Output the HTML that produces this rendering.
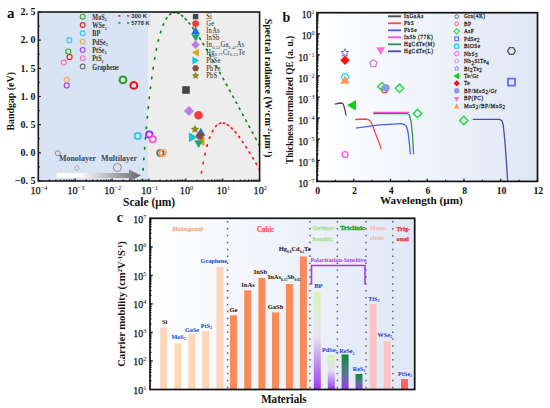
<!DOCTYPE html><html><head><meta charset="utf-8"><style>html,body{margin:0;padding:0;background:#fff;width:550px;height:408px;overflow:hidden;position:relative}</style></head><body><svg width="550" height="408" viewBox="0 0 550 408" style="position:absolute;left:0;top:0">
<defs>
<linearGradient id="bgb" x1="0" x2="1" y1="0" y2="0"><stop offset="0" stop-color="#ffffff"/><stop offset="1" stop-color="#dfe7f5"/></linearGradient>
<linearGradient id="gArrow" x1="0" x2="1" y1="0" y2="0"><stop offset="0" stop-color="#ffffff"/><stop offset="0.3" stop-color="#f8f8f8"/><stop offset="1" stop-color="#6a6a6a"/></linearGradient>
<linearGradient id="gBP" x1="0" x2="0" y1="0" y2="1"><stop offset="0" stop-color="#d4f5b8"/><stop offset="0.45" stop-color="#e8e4ee"/><stop offset="1" stop-color="#9a3cf0"/></linearGradient>
<linearGradient id="gPd" x1="0" x2="0" y1="0" y2="1"><stop offset="0" stop-color="#d4f5b8"/><stop offset="0.45" stop-color="#e4ddf0"/><stop offset="1" stop-color="#9a3cf0"/></linearGradient>
<linearGradient id="gRe" x1="0" x2="0" y1="0" y2="1"><stop offset="0" stop-color="#0e8a3a"/><stop offset="0.5" stop-color="#507a8a"/><stop offset="1" stop-color="#9a3cf0"/></linearGradient>
<clipPath id="clipA"><rect x="38.3" y="12" width="221.3" height="169"/></clipPath>
<clipPath id="clipB"><rect x="317" y="12.7" width="220.5" height="168.7"/></clipPath>
</defs>
<g font-family="Liberation Serif, serif">
<rect x="38.3" y="12.0" width="221.30" height="169.0" fill="#ededed"/>
<rect x="38.3" y="12.0" width="109.70" height="169.0" fill="#d8e3f3"/>
<rect x="147.5" y="12" width="3" height="15" fill="#dde6f2"/>
<g clip-path="url(#clipA)">
<line x1="141.68" y1="191.18" x2="141.76" y2="189.79" stroke="#0e8a1c" stroke-width="1.75" stroke-linecap="round"/>
<line x1="142.34" y1="180.87" x2="142.43" y2="179.48" stroke="#0e8a1c" stroke-width="1.75" stroke-linecap="round"/>
<line x1="143.07" y1="169.98" x2="143.17" y2="168.58" stroke="#0e8a1c" stroke-width="1.75" stroke-linecap="round"/>
<line x1="143.81" y1="159.65" x2="143.91" y2="158.26" stroke="#0e8a1c" stroke-width="1.75" stroke-linecap="round"/>
<line x1="144.62" y1="148.92" x2="144.73" y2="147.52" stroke="#0e8a1c" stroke-width="1.75" stroke-linecap="round"/>
<line x1="145.43" y1="138.81" x2="145.54" y2="137.42" stroke="#0e8a1c" stroke-width="1.75" stroke-linecap="round"/>
<line x1="146.31" y1="128.46" x2="146.43" y2="127.06" stroke="#0e8a1c" stroke-width="1.75" stroke-linecap="round"/>
<line x1="147.26" y1="117.99" x2="147.39" y2="116.60" stroke="#0e8a1c" stroke-width="1.75" stroke-linecap="round"/>
<line x1="148.22" y1="108.27" x2="148.36" y2="106.87" stroke="#0e8a1c" stroke-width="1.75" stroke-linecap="round"/>
<line x1="149.24" y1="98.57" x2="149.40" y2="97.18" stroke="#0e8a1c" stroke-width="1.75" stroke-linecap="round"/>
<line x1="150.41" y1="88.41" x2="150.58" y2="87.02" stroke="#0e8a1c" stroke-width="1.75" stroke-linecap="round"/>
<line x1="151.66" y1="78.62" x2="151.85" y2="77.23" stroke="#0e8a1c" stroke-width="1.75" stroke-linecap="round"/>
<line x1="153.05" y1="68.80" x2="153.26" y2="67.42" stroke="#0e8a1c" stroke-width="1.75" stroke-linecap="round"/>
<line x1="154.58" y1="59.22" x2="154.82" y2="57.84" stroke="#0e8a1c" stroke-width="1.75" stroke-linecap="round"/>
<line x1="156.26" y1="50.12" x2="156.54" y2="48.75" stroke="#0e8a1c" stroke-width="1.75" stroke-linecap="round"/>
<line x1="158.23" y1="41.10" x2="158.56" y2="39.74" stroke="#0e8a1c" stroke-width="1.75" stroke-linecap="round"/>
<line x1="160.47" y1="32.70" x2="160.88" y2="31.36" stroke="#0e8a1c" stroke-width="1.75" stroke-linecap="round"/>
<line x1="163.07" y1="25.20" x2="163.60" y2="23.91" stroke="#0e8a1c" stroke-width="1.75" stroke-linecap="round"/>
<line x1="166.13" y1="18.93" x2="166.88" y2="17.75" stroke="#0e8a1c" stroke-width="1.75" stroke-linecap="round"/>
<line x1="169.64" y1="14.57" x2="170.75" y2="13.72" stroke="#0e8a1c" stroke-width="1.75" stroke-linecap="round"/>
<line x1="173.48" y1="12.59" x2="174.88" y2="12.46" stroke="#0e8a1c" stroke-width="1.75" stroke-linecap="round"/>
<line x1="177.52" y1="12.97" x2="178.81" y2="13.51" stroke="#0e8a1c" stroke-width="1.75" stroke-linecap="round"/>
<line x1="181.52" y1="15.23" x2="182.62" y2="16.10" stroke="#0e8a1c" stroke-width="1.75" stroke-linecap="round"/>
<line x1="185.35" y1="18.68" x2="186.31" y2="19.70" stroke="#0e8a1c" stroke-width="1.75" stroke-linecap="round"/>
<line x1="189.09" y1="22.95" x2="189.96" y2="24.05" stroke="#0e8a1c" stroke-width="1.75" stroke-linecap="round"/>
<line x1="192.66" y1="27.66" x2="193.47" y2="28.80" stroke="#0e8a1c" stroke-width="1.75" stroke-linecap="round"/>
<line x1="196.14" y1="32.69" x2="196.92" y2="33.86" stroke="#0e8a1c" stroke-width="1.75" stroke-linecap="round"/>
<line x1="199.62" y1="38.05" x2="200.37" y2="39.23" stroke="#0e8a1c" stroke-width="1.75" stroke-linecap="round"/>
<line x1="203.03" y1="43.53" x2="203.75" y2="44.72" stroke="#0e8a1c" stroke-width="1.75" stroke-linecap="round"/>
<line x1="206.43" y1="49.18" x2="207.14" y2="50.39" stroke="#0e8a1c" stroke-width="1.75" stroke-linecap="round"/>
<line x1="209.75" y1="54.86" x2="210.45" y2="56.07" stroke="#0e8a1c" stroke-width="1.75" stroke-linecap="round"/>
<line x1="213.08" y1="60.63" x2="213.77" y2="61.85" stroke="#0e8a1c" stroke-width="1.75" stroke-linecap="round"/>
<line x1="216.40" y1="66.49" x2="217.09" y2="67.71" stroke="#0e8a1c" stroke-width="1.75" stroke-linecap="round"/>
<line x1="219.72" y1="72.41" x2="220.40" y2="73.64" stroke="#0e8a1c" stroke-width="1.75" stroke-linecap="round"/>
<line x1="223.04" y1="78.39" x2="223.72" y2="79.61" stroke="#0e8a1c" stroke-width="1.75" stroke-linecap="round"/>
<line x1="226.29" y1="84.27" x2="226.96" y2="85.50" stroke="#0e8a1c" stroke-width="1.75" stroke-linecap="round"/>
<line x1="229.54" y1="90.19" x2="230.21" y2="91.42" stroke="#0e8a1c" stroke-width="1.75" stroke-linecap="round"/>
<line x1="232.78" y1="96.13" x2="233.45" y2="97.36" stroke="#0e8a1c" stroke-width="1.75" stroke-linecap="round"/>
<line x1="236.03" y1="102.09" x2="236.70" y2="103.32" stroke="#0e8a1c" stroke-width="1.75" stroke-linecap="round"/>
<line x1="239.28" y1="108.07" x2="239.94" y2="109.31" stroke="#0e8a1c" stroke-width="1.75" stroke-linecap="round"/>
<line x1="242.52" y1="114.07" x2="243.19" y2="115.30" stroke="#0e8a1c" stroke-width="1.75" stroke-linecap="round"/>
<line x1="245.77" y1="120.07" x2="246.43" y2="121.31" stroke="#0e8a1c" stroke-width="1.75" stroke-linecap="round"/>
<line x1="249.01" y1="126.09" x2="249.68" y2="127.32" stroke="#0e8a1c" stroke-width="1.75" stroke-linecap="round"/>
<line x1="252.26" y1="132.11" x2="252.92" y2="133.34" stroke="#0e8a1c" stroke-width="1.75" stroke-linecap="round"/>
<line x1="255.51" y1="138.14" x2="256.17" y2="139.37" stroke="#0e8a1c" stroke-width="1.75" stroke-linecap="round"/>
<line x1="258.75" y1="144.17" x2="259.42" y2="145.40" stroke="#0e8a1c" stroke-width="1.75" stroke-linecap="round"/>
<line x1="198.65" y1="192.06" x2="198.83" y2="190.67" stroke="#f42020" stroke-width="1.75" stroke-linecap="round"/>
<line x1="199.97" y1="182.42" x2="200.17" y2="181.04" stroke="#f42020" stroke-width="1.75" stroke-linecap="round"/>
<line x1="201.43" y1="172.90" x2="201.66" y2="171.52" stroke="#f42020" stroke-width="1.75" stroke-linecap="round"/>
<line x1="203.04" y1="163.74" x2="203.30" y2="162.36" stroke="#f42020" stroke-width="1.75" stroke-linecap="round"/>
<line x1="204.86" y1="154.83" x2="205.17" y2="153.47" stroke="#f42020" stroke-width="1.75" stroke-linecap="round"/>
<line x1="206.96" y1="146.29" x2="207.34" y2="144.94" stroke="#f42020" stroke-width="1.75" stroke-linecap="round"/>
<line x1="209.42" y1="138.40" x2="209.90" y2="137.08" stroke="#f42020" stroke-width="1.75" stroke-linecap="round"/>
<line x1="212.28" y1="131.62" x2="212.94" y2="130.38" stroke="#f42020" stroke-width="1.75" stroke-linecap="round"/>
<line x1="215.60" y1="126.49" x2="216.56" y2="125.47" stroke="#f42020" stroke-width="1.75" stroke-linecap="round"/>
<line x1="219.32" y1="123.55" x2="220.65" y2="123.11" stroke="#f42020" stroke-width="1.75" stroke-linecap="round"/>
<line x1="223.36" y1="123.05" x2="224.72" y2="123.38" stroke="#f42020" stroke-width="1.75" stroke-linecap="round"/>
<line x1="227.45" y1="124.71" x2="228.61" y2="125.48" stroke="#f42020" stroke-width="1.75" stroke-linecap="round"/>
<line x1="231.36" y1="127.80" x2="232.36" y2="128.78" stroke="#f42020" stroke-width="1.75" stroke-linecap="round"/>
<line x1="235.10" y1="131.78" x2="236.00" y2="132.86" stroke="#f42020" stroke-width="1.75" stroke-linecap="round"/>
<line x1="238.75" y1="136.38" x2="239.58" y2="137.51" stroke="#f42020" stroke-width="1.75" stroke-linecap="round"/>
<line x1="242.31" y1="141.38" x2="243.10" y2="142.54" stroke="#f42020" stroke-width="1.75" stroke-linecap="round"/>
<line x1="245.80" y1="146.64" x2="246.55" y2="147.82" stroke="#f42020" stroke-width="1.75" stroke-linecap="round"/>
<line x1="249.20" y1="152.04" x2="249.93" y2="153.23" stroke="#f42020" stroke-width="1.75" stroke-linecap="round"/>
<line x1="252.60" y1="157.64" x2="253.32" y2="158.84" stroke="#f42020" stroke-width="1.75" stroke-linecap="round"/>
<line x1="255.93" y1="163.26" x2="256.63" y2="164.47" stroke="#f42020" stroke-width="1.75" stroke-linecap="round"/>
<line x1="259.25" y1="169.00" x2="259.95" y2="170.22" stroke="#f42020" stroke-width="1.75" stroke-linecap="round"/>
</g>
<polygon points="56.5,173 129,173 129,169.5 141,175.5 129,181.5 129,178 56.5,178" fill="url(#gArrow)"/>
<text x="59" y="160.6" font-size="8.3" font-weight="bold" fill="#3a4458" text-anchor="start" textLength="37" lengthAdjust="spacingAndGlyphs" >Monolayer</text>
<text x="101" y="160.6" font-size="8.3" font-weight="bold" fill="#3a4458" text-anchor="start" textLength="36" lengthAdjust="spacingAndGlyphs" >Multilayer</text>
<circle cx="82.70" cy="16.70" r="2.4" fill="none" stroke="#3aa532" stroke-width="1.1"/>
<text x="92.3" y="19.80" font-size="7.4" font-weight="bold" fill="#333" transform="translate(92.3,0) scale(0.84,1) translate(-92.3,0)">MoS<tspan dy="1.5" font-size="4.8">2</tspan></text>
<circle cx="82.70" cy="25.00" r="2.4" fill="none" stroke="#e42222" stroke-width="1.1"/>
<text x="92.3" y="28.10" font-size="7.4" font-weight="bold" fill="#333" transform="translate(92.3,0) scale(0.84,1) translate(-92.3,0)">WSe<tspan dy="1.5" font-size="4.8">2</tspan></text>
<circle cx="82.70" cy="33.30" r="2.4" fill="none" stroke="#35c6f2" stroke-width="1.1"/>
<text x="92.3" y="36.40" font-size="7.4" font-weight="bold" fill="#333" transform="translate(92.3,0) scale(0.84,1) translate(-92.3,0)">BP</text>
<circle cx="82.70" cy="41.60" r="2.4" fill="none" stroke="#f7a56a" stroke-width="1.1"/>
<text x="92.3" y="44.70" font-size="7.4" font-weight="bold" fill="#333" transform="translate(92.3,0) scale(0.84,1) translate(-92.3,0)">PdSe<tspan dy="1.5" font-size="4.8">2</tspan></text>
<circle cx="82.70" cy="49.90" r="2.4" fill="none" stroke="#a23ff0" stroke-width="1.1"/>
<text x="92.3" y="53.00" font-size="7.4" font-weight="bold" fill="#333" transform="translate(92.3,0) scale(0.84,1) translate(-92.3,0)">PtSe<tspan dy="1.5" font-size="4.8">2</tspan></text>
<circle cx="82.70" cy="58.20" r="2.4" fill="none" stroke="#ff6ec6" stroke-width="1.1"/>
<text x="92.3" y="61.30" font-size="7.4" font-weight="bold" fill="#333" transform="translate(92.3,0) scale(0.84,1) translate(-92.3,0)">PtS<tspan dy="1.5" font-size="4.8">2</tspan></text>
<circle cx="82.70" cy="66.50" r="2.4" fill="none" stroke="#6e6e6e" stroke-width="1.1"/>
<text x="92.3" y="69.60" font-size="7.4" font-weight="bold" fill="#333" transform="translate(92.3,0) scale(0.84,1) translate(-92.3,0)">Graphene</text>
<line x1="118.3" y1="15.9" x2="120.5" y2="15.9" stroke="#f02020" stroke-width="1.5"/>
<line x1="127" y1="15.9" x2="129.3" y2="15.9" stroke="#f02020" stroke-width="1.5"/>
<text x="131.2" y="18.0" font-size="5.8" font-weight="bold" fill="#333" text-anchor="start" textLength="16" lengthAdjust="spacingAndGlyphs" font-family="Liberation Sans, sans-serif">300 K</text>
<line x1="118.3" y1="22.9" x2="120.5" y2="22.9" stroke="#14901e" stroke-width="1.5"/>
<line x1="127" y1="22.9" x2="129.3" y2="22.9" stroke="#14901e" stroke-width="1.5"/>
<text x="131.2" y="25.0" font-size="5.8" font-weight="bold" fill="#333" text-anchor="start" textLength="18.4" lengthAdjust="spacingAndGlyphs" font-family="Liberation Sans, sans-serif">5778 K</text>
<circle cx="69.30" cy="40.20" r="2.5" fill="none" stroke="#35c6f2" stroke-width="1.2"/>
<circle cx="68.30" cy="51.50" r="2.5" fill="none" stroke="#3aa532" stroke-width="1.2"/>
<circle cx="69.60" cy="57.00" r="2.5" fill="none" stroke="#e42222" stroke-width="1.2"/>
<circle cx="63.80" cy="62.60" r="2.5" fill="none" stroke="#ff6ec6" stroke-width="1.2"/>
<circle cx="66.70" cy="79.80" r="2.5" fill="none" stroke="#f7a56a" stroke-width="1.2"/>
<circle cx="66.70" cy="85.50" r="2.5" fill="none" stroke="#a23ff0" stroke-width="1.2"/>
<circle cx="123.00" cy="79.90" r="3.4" fill="none" stroke="#2a9a22" stroke-width="2.0"/>
<circle cx="133.80" cy="85.40" r="3.4" fill="none" stroke="#ee1111" stroke-width="2.0"/>
<circle cx="137.80" cy="136.00" r="3.2" fill="none" stroke="#35c6f2" stroke-width="1.8"/>
<circle cx="149.30" cy="134.50" r="3.2" fill="none" stroke="#a020f0" stroke-width="1.8"/>
<circle cx="152.70" cy="139.20" r="3.2" fill="none" stroke="#ff55cc" stroke-width="1.8"/>
<circle cx="160.40" cy="153.00" r="3.2" fill="none" stroke="#666" stroke-width="1.8"/>
<circle cx="162.60" cy="153.00" r="3.2" fill="none" stroke="#ffa050" stroke-width="1.8"/>
<circle cx="57.80" cy="153.30" r="2.5" fill="none" stroke="#808080" stroke-width="0.9"/>
<circle cx="76.80" cy="168.10" r="2.2" fill="none" stroke="#a0a0a0" stroke-width="0.8"/>
<circle cx="117.40" cy="167.50" r="4.0" fill="none" stroke="#8a8a8a" stroke-width="1.0"/>
<rect x="192.90" y="13.90" width="5.4" height="5.4" fill="#454545"/>
<text x="206.2" y="19.10" font-size="7.6" fill="#222" transform="translate(206.2,0) scale(0.86,1) translate(-206.2,0)" letter-spacing="0.3">Si</text>
<circle cx="195.60" cy="23.60" r="3.4" fill="#f43c3c" stroke="none" stroke-width="0"/>
<text x="206.2" y="26.10" font-size="7.6" fill="#222" transform="translate(206.2,0) scale(0.86,1) translate(-206.2,0)" letter-spacing="0.3">Ge</text>
<polygon points="195.60,26.60 199.84,33.95 191.36,33.95" fill="#1f6fe0" stroke="none" stroke-width="0" />
<text x="206.2" y="33.10" font-size="7.6" fill="#222" transform="translate(206.2,0) scale(0.86,1) translate(-206.2,0)" letter-spacing="0.3">InAs</text>
<polygon points="195.60,41.60 191.36,34.25 199.84,34.25" fill="#1aa56a" stroke="none" stroke-width="0" />
<text x="206.2" y="40.10" font-size="7.6" fill="#222" transform="translate(206.2,0) scale(0.86,1) translate(-206.2,0)" letter-spacing="0.3">InSb</text>
<polygon points="195.60,40.50 199.90,44.80 195.60,49.10 191.30,44.80" fill="#b87ee0" stroke="none" stroke-width="0" />
<text x="206.2" y="47.30" font-size="7.6" fill="#222" transform="translate(206.2,0) scale(0.86,1) translate(-206.2,0)" letter-spacing="0.3">In<tspan dy="1.4" font-size="4.8">0.53</tspan><tspan dy="-1.4">Ga</tspan><tspan dy="1.4" font-size="4.8">0.47</tspan><tspan dy="-1.4">As</tspan></text>
<polygon points="191.90,52.40 198.80,48.42 198.80,56.38" fill="#e0a020" stroke="none" stroke-width="0" />
<text x="206.2" y="54.90" font-size="7.6" fill="#222" transform="translate(206.2,0) scale(0.86,1) translate(-206.2,0)" letter-spacing="0.3">Hg<tspan dy="1.4" font-size="4.8">0.77</tspan><tspan dy="-1.4">Cr</tspan><tspan dy="1.4" font-size="4.8">0.23</tspan><tspan dy="-1.4">Te</tspan></text>
<polygon points="199.30,60.60 192.40,64.58 192.40,56.62" fill="#16c6d6" stroke="none" stroke-width="0" />
<text x="206.2" y="63.10" font-size="7.6" fill="#222" transform="translate(206.2,0) scale(0.86,1) translate(-206.2,0)" letter-spacing="0.3">PbSe</text>
<polygon points="199.10,68.20 197.35,71.23 193.85,71.23 192.10,68.20 193.85,65.17 197.35,65.17" fill="#8a4a48" stroke="none" stroke-width="0" />
<text x="206.2" y="70.70" font-size="7.6" fill="#222" transform="translate(206.2,0) scale(0.86,1) translate(-206.2,0)" letter-spacing="0.3">PbTe</text>
<polygon points="195.60,71.70 196.78,74.08 199.40,74.46 197.50,76.32 197.95,78.94 195.60,77.70 193.25,78.94 193.70,76.32 191.80,74.46 194.42,74.08" fill="#8c8c1e" stroke="none" stroke-width="0" />
<text x="206.2" y="78.20" font-size="7.6" fill="#222" transform="translate(206.2,0) scale(0.86,1) translate(-206.2,0)" letter-spacing="0.3">PbS</text>
<rect x="182.20" y="86.20" width="7.6" height="7.6" fill="#454545"/>
<polygon points="189.00,105.90 194.00,110.90 189.00,115.90 184.00,110.90" fill="#b87ee0" stroke="none" stroke-width="0" />
<circle cx="198.50" cy="115.30" r="4.3" fill="#f43c3c" stroke="none" stroke-width="0"/>
<polygon points="196.30,141.20 204.55,136.44 204.55,145.96" fill="#e0a020" stroke="none" stroke-width="0" />
<polygon points="200.80,127.70 205.39,135.65 196.21,135.65" fill="#1f6fe0" stroke="none" stroke-width="0" />
<polygon points="198.60,148.00 194.27,140.50 202.93,140.50" fill="#1aa56a" stroke="none" stroke-width="0" />
<polygon points="197.60,137.30 188.90,142.32 188.90,132.28" fill="#16c6d6" stroke="none" stroke-width="0" />
<polygon points="204.10,135.80 202.00,139.44 197.80,139.44 195.70,135.80 197.80,132.16 202.00,132.16" fill="#8a4a48" stroke="none" stroke-width="0" />
<polygon points="195.00,124.70 196.29,127.52 199.37,127.88 197.09,129.98 197.70,133.02 195.00,131.50 192.30,133.02 192.91,129.98 190.63,127.88 193.71,127.52" fill="#8c8c1e" stroke="none" stroke-width="0" />
<rect x="38.3" y="12.0" width="221.30" height="169.0" fill="none" stroke="#1a1a1a" stroke-width="1.6"/>
<path d="M38.3,12.00h2.6 M38.3,26.08h1.5 M38.3,40.17h2.6 M38.3,54.25h1.5 M38.3,68.33h2.6 M38.3,82.42h1.5 M38.3,96.50h2.6 M38.3,110.58h1.5 M38.3,124.67h2.6 M38.3,138.75h1.5 M38.3,152.83h2.6 M38.3,166.92h1.5 M38.3,181.00h2.6 M38.30,181.0v-2.6 M49.40,181.0v-1.5 M55.90,181.0v-1.5 M60.51,181.0v-1.5 M64.08,181.0v-1.5 M67.00,181.0v-1.5 M69.47,181.0v-1.5 M71.61,181.0v-1.5 M73.50,181.0v-1.5 M75.18,181.0v-2.6 M86.29,181.0v-1.5 M92.78,181.0v-1.5 M97.39,181.0v-1.5 M100.96,181.0v-1.5 M103.88,181.0v-1.5 M106.35,181.0v-1.5 M108.49,181.0v-1.5 M110.38,181.0v-1.5 M112.07,181.0v-2.6 M123.17,181.0v-1.5 M129.66,181.0v-1.5 M134.27,181.0v-1.5 M137.85,181.0v-1.5 M140.77,181.0v-1.5 M143.24,181.0v-1.5 M145.38,181.0v-1.5 M147.26,181.0v-1.5 M148.95,181.0v-2.6 M160.05,181.0v-1.5 M166.55,181.0v-1.5 M171.16,181.0v-1.5 M174.73,181.0v-1.5 M177.65,181.0v-1.5 M180.12,181.0v-1.5 M182.26,181.0v-1.5 M184.15,181.0v-1.5 M185.83,181.0v-2.6 M196.94,181.0v-1.5 M203.43,181.0v-1.5 M208.04,181.0v-1.5 M211.61,181.0v-1.5 M214.53,181.0v-1.5 M217.00,181.0v-1.5 M219.14,181.0v-1.5 M221.03,181.0v-1.5 M222.72,181.0v-2.6 M233.82,181.0v-1.5 M240.31,181.0v-1.5 M244.92,181.0v-1.5 M248.50,181.0v-1.5 M251.42,181.0v-1.5 M253.89,181.0v-1.5 M256.03,181.0v-1.5 M257.91,181.0v-1.5 M259.60,181.0v-2.6" stroke="#1a1a1a" stroke-width="1.2" fill="none"/>
<text x="35.4" y="15.3" font-size="10" font-weight="bold" fill="#111" text-anchor="end" >2. 5</text>
<text x="35.4" y="43.46666666666667" font-size="10" font-weight="bold" fill="#111" text-anchor="end" >2. 0</text>
<text x="35.4" y="71.63333333333334" font-size="10" font-weight="bold" fill="#111" text-anchor="end" >1. 5</text>
<text x="35.4" y="99.8" font-size="10" font-weight="bold" fill="#111" text-anchor="end" >1. 0</text>
<text x="35.4" y="127.96666666666667" font-size="10" font-weight="bold" fill="#111" text-anchor="end" >0. 5</text>
<text x="35.4" y="156.13333333333335" font-size="10" font-weight="bold" fill="#111" text-anchor="end" >0. 0</text>
<text x="35.4" y="184.3" font-size="10" font-weight="bold" fill="#111" text-anchor="end" >&#8722;0. 5</text>
<text x="39.00" y="193.7" font-size="10.2" fill="#111" text-anchor="middle" stroke="#111" stroke-width="0.25">10<tspan dy="-4.2" font-size="6.4" stroke-width="0">&#8722;4</tspan></text>
<text x="75.88" y="193.7" font-size="10.2" fill="#111" text-anchor="middle" stroke="#111" stroke-width="0.25">10<tspan dy="-4.2" font-size="6.4" stroke-width="0">&#8722;3</tspan></text>
<text x="112.77" y="193.7" font-size="10.2" fill="#111" text-anchor="middle" stroke="#111" stroke-width="0.25">10<tspan dy="-4.2" font-size="6.4" stroke-width="0">&#8722;2</tspan></text>
<text x="149.65" y="193.7" font-size="10.2" fill="#111" text-anchor="middle" stroke="#111" stroke-width="0.25">10<tspan dy="-4.2" font-size="6.4" stroke-width="0">&#8722;1</tspan></text>
<text x="186.53" y="193.7" font-size="10.2" fill="#111" text-anchor="middle" stroke="#111" stroke-width="0.25">10<tspan dy="-4.2" font-size="6.4" stroke-width="0">0</tspan></text>
<text x="223.42" y="193.7" font-size="10.2" fill="#111" text-anchor="middle" stroke="#111" stroke-width="0.25">10<tspan dy="-4.2" font-size="6.4" stroke-width="0">1</tspan></text>
<text x="260.30" y="193.7" font-size="10.2" fill="#111" text-anchor="middle" stroke="#111" stroke-width="0.25">10<tspan dy="-4.2" font-size="6.4" stroke-width="0">2</tspan></text>
<text x="123" y="206" font-size="11.5" font-weight="bold" fill="#111" text-anchor="start" >Scale (μm)</text>
<text transform="translate(13.5,101.3) rotate(-90)" font-size="9.9" font-weight="bold" fill="#111" text-anchor="middle">Bandgap (eV)</text>
<text transform="translate(265,88) rotate(90)" font-size="10" font-weight="bold" fill="#111" text-anchor="middle">Spectral radiance (W·cm<tspan dy="-3" font-size="6.5">-2</tspan><tspan dy="3">·μm</tspan><tspan dy="-3" font-size="6.5">-1</tspan><tspan dy="3">)</tspan></text>
<text x="7" y="18" font-size="15" font-weight="bold" fill="#111" text-anchor="start" >a</text>
<rect x="317.0" y="12.7" width="220.5" height="168.70" fill="url(#bgb)"/>
<g clip-path="url(#clipB)">
<polyline points="334.70,104.20 340.50,103.00 342.60,103.30 343.80,105.50 345.00,110.00 346.10,115.70" fill="none" stroke="#4a4a4a" stroke-width="1.3" stroke-linejoin="round" />
<polyline points="355.20,119.50 365.20,119.00 368.50,119.60 370.50,121.50 372.50,125.00 375.20,133.00 378.50,141.00 381.30,149.20" fill="none" stroke="#f24a4a" stroke-width="1.3" stroke-linejoin="round" />
<polyline points="355.80,128.10 377.20,125.20 401.30,123.70 404.50,124.40 406.50,126.50 408.00,132.00 409.20,142.00 410.40,154.20" fill="none" stroke="#4d5cf0" stroke-width="1.3" stroke-linejoin="round" />
<polyline points="373.20,113.70 407.50,113.70 409.50,115.00 411.20,122.00 412.50,135.00 413.60,154.20" fill="none" stroke="#2e8f56" stroke-width="1.3" stroke-linejoin="round" />
<polyline points="373.20,112.40 409.40,112.40" fill="none" stroke="#f050e0" stroke-width="1.3" stroke-linejoin="round" />
<polyline points="472.80,119.40 499.50,119.40 501.80,120.60 503.20,124.50 504.80,140.00 506.30,160.00 507.70,182.00" fill="none" stroke="#4a4aa8" stroke-width="1.3" stroke-linejoin="round" />
</g>
<polygon points="345.00,48.70 346.04,51.47 348.99,51.60 346.68,53.45 347.47,56.30 345.00,54.66 342.53,56.30 343.32,53.45 341.01,51.60 343.96,51.47" fill="none" stroke="#6a6ad0" stroke-width="1.0" />
<polygon points="345.00,55.50 349.80,60.30 345.00,65.10 340.20,60.30" fill="#ff1010" stroke="none" stroke-width="0" />
<polygon points="348.60,77.00 346.80,80.12 343.20,80.12 341.40,77.00 343.20,73.88 346.80,73.88" fill="none" stroke="#18d8f0" stroke-width="1.3" />
<polygon points="345.00,75.50 349.76,83.75 340.24,83.75" fill="#ff9a55" stroke="none" stroke-width="0" />
<polygon points="380.70,55.00 376.20,47.20 385.20,47.20" fill="#ff70dd" stroke="none" stroke-width="0" />
<polygon points="373.50,59.70 377.11,62.33 375.73,66.57 371.27,66.57 369.89,62.33" fill="none" stroke="#c080f0" stroke-width="1.3" />
<polygon points="388.20,89.50 386.40,92.62 382.80,92.62 381.00,89.50 382.80,86.38 386.40,86.38" fill="none" stroke="#ff4040" stroke-width="1.2" />
<polygon points="382.00,82.50 386.20,86.70 382.00,90.90 377.80,86.70" fill="none" stroke="#22dd44" stroke-width="1.5" />
<circle cx="386.00" cy="88.00" r="3.8" fill="#8a97ea" stroke="none" stroke-width="0"/>
<polygon points="347.00,105.30 356.00,100.10 356.00,110.50" fill="#10d010" stroke="none" stroke-width="0" />
<circle cx="345.10" cy="154.60" r="2.9" fill="none" stroke="#ff55ee" stroke-width="1.3"/>
<polygon points="399.50,84.10 403.70,88.30 399.50,92.50 395.30,88.30" fill="none" stroke="#22dd44" stroke-width="1.5" />
<polygon points="417.50,109.30 421.70,113.50 417.50,117.70 413.30,113.50" fill="none" stroke="#22dd44" stroke-width="1.5" />
<polygon points="463.80,116.20 468.00,120.40 463.80,124.60 459.60,120.40" fill="none" stroke="#22dd44" stroke-width="1.5" />
<polygon points="515.40,51.00 513.45,54.38 509.55,54.38 507.60,51.00 509.55,47.62 513.45,47.62" fill="none" stroke="#555" stroke-width="1.4" />
<rect x="508.0" y="78.6" width="7.0" height="7.0" fill="none" stroke="#6c6cf0" stroke-width="1.8"/>
<line x1="388" y1="16.30" x2="401" y2="16.30" stroke="#4a4a4a" stroke-width="1.8"/>
<text x="404" y="18.50" font-size="6.4" fill="#1a1a1a" letter-spacing="0.6" stroke="#1a1a1a" stroke-width="0.25" transform="translate(404,0) scale(0.84,1) translate(-404,0)">InGaAs</text>
<line x1="388" y1="23.30" x2="401" y2="23.30" stroke="#f24a4a" stroke-width="1.8"/>
<text x="404" y="25.50" font-size="6.4" fill="#1a1a1a" letter-spacing="0.6" stroke="#1a1a1a" stroke-width="0.25" transform="translate(404,0) scale(0.84,1) translate(-404,0)">PbS</text>
<line x1="388" y1="30.30" x2="401" y2="30.30" stroke="#4d5cf0" stroke-width="1.8"/>
<text x="404" y="32.50" font-size="6.4" fill="#1a1a1a" letter-spacing="0.6" stroke="#1a1a1a" stroke-width="0.25" transform="translate(404,0) scale(0.84,1) translate(-404,0)">PbSe</text>
<line x1="388" y1="37.30" x2="401" y2="37.30" stroke="#f050e0" stroke-width="1.8"/>
<text x="404" y="39.50" font-size="6.4" fill="#1a1a1a" letter-spacing="0.6" stroke="#1a1a1a" stroke-width="0.25" transform="translate(404,0) scale(0.84,1) translate(-404,0)">InSb (77K)</text>
<line x1="388" y1="44.30" x2="401" y2="44.30" stroke="#2e8f56" stroke-width="1.8"/>
<text x="404" y="46.50" font-size="6.4" fill="#1a1a1a" letter-spacing="0.6" stroke="#1a1a1a" stroke-width="0.25" transform="translate(404,0) scale(0.84,1) translate(-404,0)">HgCdTe(M)</text>
<line x1="388" y1="51.30" x2="401" y2="51.30" stroke="#4a4aa8" stroke-width="1.8"/>
<text x="404" y="53.50" font-size="6.4" fill="#1a1a1a" letter-spacing="0.6" stroke="#1a1a1a" stroke-width="0.25" transform="translate(404,0) scale(0.84,1) translate(-404,0)">HgCdTe(L)</text>
<polygon points="458.70,16.50 457.70,18.23 455.70,18.23 454.70,16.50 455.70,14.77 457.70,14.77" fill="none" stroke="#555" stroke-width="0.8" />
<text x="463.9" y="18.50" font-size="6.4" fill="#1a1a1a" letter-spacing="0.6" stroke="#1a1a1a" stroke-width="0.25" transform="translate(463.9,0) scale(0.84,1) translate(-463.9,0)">Gra(4K)</text>
<polygon points="458.70,23.93 457.70,25.66 455.70,25.66 454.70,23.93 455.70,22.20 457.70,22.20" fill="none" stroke="#ff4040" stroke-width="0.8" />
<text x="463.9" y="25.93" font-size="6.4" fill="#1a1a1a" letter-spacing="0.6" stroke="#1a1a1a" stroke-width="0.25" transform="translate(463.9,0) scale(0.84,1) translate(-463.9,0)">BP</text>
<polygon points="456.70,28.66 459.40,31.36 456.70,34.06 454.00,31.36" fill="none" stroke="#22dd44" stroke-width="1.1" />
<text x="463.9" y="33.36" font-size="6.4" fill="#1a1a1a" letter-spacing="0.6" stroke="#1a1a1a" stroke-width="0.25" transform="translate(463.9,0) scale(0.84,1) translate(-463.9,0)">AsP</text>
<rect x="454.90" y="36.99" width="3.6" height="3.6" fill="none" stroke="#6c6cf0" stroke-width="1.2"/>
<text x="463.9" y="40.79" font-size="6.4" fill="#1a1a1a" letter-spacing="0.6" stroke="#1a1a1a" stroke-width="0.25" transform="translate(463.9,0) scale(0.84,1) translate(-463.9,0)">PdSe<tspan dy="1.5" font-size="6">2</tspan></text>
<circle cx="456.70" cy="46.22" r="2.2" fill="none" stroke="#18d8f0" stroke-width="1.4"/>
<text x="463.9" y="48.22" font-size="6.4" fill="#1a1a1a" letter-spacing="0.6" stroke="#1a1a1a" stroke-width="0.25" transform="translate(463.9,0) scale(0.84,1) translate(-463.9,0)">BiOSe</text>
<circle cx="456.70" cy="53.65" r="2.2" fill="none" stroke="#ff55ee" stroke-width="1.0"/>
<text x="463.9" y="55.65" font-size="6.4" fill="#1a1a1a" letter-spacing="0.6" stroke="#1a1a1a" stroke-width="0.25" transform="translate(463.9,0) scale(0.84,1) translate(-463.9,0)">NbS<tspan dy="1.5" font-size="6">3</tspan></text>
<polygon points="456.70,58.98 458.70,60.43 457.93,62.78 455.47,62.78 454.70,60.43" fill="none" stroke="#c080f0" stroke-width="0.8" />
<text x="463.9" y="63.08" font-size="6.4" fill="#1a1a1a" letter-spacing="0.6" stroke="#1a1a1a" stroke-width="0.25" transform="translate(463.9,0) scale(0.84,1) translate(-463.9,0)">Nb<tspan dy="1.5" font-size="6">2</tspan><tspan dy="-1.5">SiTe</tspan><tspan dy="1.5" font-size="6">4</tspan></text>
<polygon points="456.70,66.11 457.29,67.69 458.98,67.77 457.66,68.82 458.11,70.45 456.70,69.52 455.29,70.45 455.74,68.82 454.42,67.77 456.11,67.69" fill="none" stroke="#6a6ad0" stroke-width="0.6" />
<text x="463.9" y="70.51" font-size="6.4" fill="#1a1a1a" letter-spacing="0.6" stroke="#1a1a1a" stroke-width="0.25" transform="translate(463.9,0) scale(0.84,1) translate(-463.9,0)">Bi<tspan dy="1.5" font-size="6">2</tspan><tspan dy="-1.5">Te</tspan><tspan dy="1.5" font-size="6">2</tspan></text>
<polygon points="453.40,75.94 459.10,72.65 459.10,79.23" fill="#10d010" stroke="none" stroke-width="0" />
<text x="463.9" y="77.94" font-size="6.4" fill="#1a1a1a" letter-spacing="0.6" stroke="#1a1a1a" stroke-width="0.25" transform="translate(463.9,0) scale(0.84,1) translate(-463.9,0)">Te/Gr</text>
<polygon points="456.70,80.27 459.80,83.37 456.70,86.47 453.60,83.37" fill="#ff1010" stroke="none" stroke-width="0" />
<text x="463.9" y="85.37" font-size="6.4" fill="#1a1a1a" letter-spacing="0.6" stroke="#1a1a1a" stroke-width="0.25" transform="translate(463.9,0) scale(0.84,1) translate(-463.9,0)">Te</text>
<circle cx="456.70" cy="90.80" r="2.7" fill="#8a97ea" stroke="none" stroke-width="0"/>
<text x="463.9" y="92.80" font-size="6.4" fill="#1a1a1a" letter-spacing="0.6" stroke="#1a1a1a" stroke-width="0.25" transform="translate(463.9,0) scale(0.84,1) translate(-463.9,0)">BP/MoS<tspan dy="1.5" font-size="6">2</tspan><tspan dy="-1.5">/Gr</tspan></text>
<polygon points="456.70,101.83 453.84,96.88 459.56,96.88" fill="#ff70dd" stroke="none" stroke-width="0" />
<text x="463.9" y="100.23" font-size="6.4" fill="#1a1a1a" letter-spacing="0.6" stroke="#1a1a1a" stroke-width="0.25" transform="translate(463.9,0) scale(0.84,1) translate(-463.9,0)">BP(PC)</text>
<polygon points="456.70,103.56 459.56,108.51 453.84,108.51" fill="#ff9a55" stroke="none" stroke-width="0" />
<text x="463.9" y="107.66" font-size="6.4" fill="#1a1a1a" letter-spacing="0.6" stroke="#1a1a1a" stroke-width="0.25" transform="translate(463.9,0) scale(0.84,1) translate(-463.9,0)">MoS<tspan dy="1.5" font-size="6">2</tspan><tspan dy="-1.5">/BP/MoS</tspan><tspan dy="1.5" font-size="6">2</tspan></text>
<rect x="317.0" y="12.7" width="220.5" height="168.70" fill="none" stroke="#111" stroke-width="1.7"/>
<path d="M317.0,181.40h2.8 M317.0,175.05h1.5 M317.0,171.34h1.5 M317.0,168.70h1.5 M317.0,166.66h1.5 M317.0,164.99h1.5 M317.0,163.58h1.5 M317.0,162.36h1.5 M317.0,161.28h1.5 M317.0,160.31h2.8 M317.0,153.96h1.5 M317.0,150.25h1.5 M317.0,147.62h1.5 M317.0,145.57h1.5 M317.0,143.90h1.5 M317.0,142.49h1.5 M317.0,141.27h1.5 M317.0,140.19h1.5 M317.0,139.22h2.8 M317.0,132.88h1.5 M317.0,129.16h1.5 M317.0,126.53h1.5 M317.0,124.49h1.5 M317.0,122.82h1.5 M317.0,121.40h1.5 M317.0,120.18h1.5 M317.0,119.10h1.5 M317.0,118.14h2.8 M317.0,111.79h1.5 M317.0,108.08h1.5 M317.0,105.44h1.5 M317.0,103.40h1.5 M317.0,101.73h1.5 M317.0,100.32h1.5 M317.0,99.09h1.5 M317.0,98.01h1.5 M317.0,97.05h2.8 M317.0,90.70h1.5 M317.0,86.99h1.5 M317.0,84.35h1.5 M317.0,82.31h1.5 M317.0,80.64h1.5 M317.0,79.23h1.5 M317.0,78.01h1.5 M317.0,76.93h1.5 M317.0,75.96h2.8 M317.0,69.61h1.5 M317.0,65.90h1.5 M317.0,63.27h1.5 M317.0,61.22h1.5 M317.0,59.55h1.5 M317.0,58.14h1.5 M317.0,56.92h1.5 M317.0,55.84h1.5 M317.0,54.88h2.8 M317.0,48.53h1.5 M317.0,44.81h1.5 M317.0,42.18h1.5 M317.0,40.14h1.5 M317.0,38.47h1.5 M317.0,37.05h1.5 M317.0,35.83h1.5 M317.0,34.75h1.5 M317.0,33.79h2.8 M317.0,27.44h1.5 M317.0,23.73h1.5 M317.0,21.09h1.5 M317.0,19.05h1.5 M317.0,17.38h1.5 M317.0,15.97h1.5 M317.0,14.74h1.5 M317.0,13.66h1.5 M317.0,12.70h2.8 M317.00,181.4v-2.6 M335.38,181.4v-1.6 M353.75,181.4v-2.6 M372.12,181.4v-1.6 M390.50,181.4v-2.6 M408.88,181.4v-1.6 M427.25,181.4v-2.6 M445.62,181.4v-1.6 M464.00,181.4v-2.6 M482.38,181.4v-1.6 M500.75,181.4v-2.6 M519.12,181.4v-1.6 M537.50,181.4v-2.6" stroke="#111" stroke-width="1.2" fill="none"/>
<text x="314.6" y="187.10" font-size="9.9" fill="#111" text-anchor="end" stroke="#111" stroke-width="0.25">10<tspan dy="-4.0" font-size="6.2" stroke-width="0">&#8722;7</tspan></text>
<text x="314.6" y="166.01" font-size="9.9" fill="#111" text-anchor="end" stroke="#111" stroke-width="0.25">10<tspan dy="-4.0" font-size="6.2" stroke-width="0">&#8722;6</tspan></text>
<text x="314.6" y="144.92" font-size="9.9" fill="#111" text-anchor="end" stroke="#111" stroke-width="0.25">10<tspan dy="-4.0" font-size="6.2" stroke-width="0">&#8722;5</tspan></text>
<text x="314.6" y="123.84" font-size="9.9" fill="#111" text-anchor="end" stroke="#111" stroke-width="0.25">10<tspan dy="-4.0" font-size="6.2" stroke-width="0">&#8722;4</tspan></text>
<text x="314.6" y="102.75" font-size="9.9" fill="#111" text-anchor="end" stroke="#111" stroke-width="0.25">10<tspan dy="-4.0" font-size="6.2" stroke-width="0">&#8722;3</tspan></text>
<text x="314.6" y="81.66" font-size="9.9" fill="#111" text-anchor="end" stroke="#111" stroke-width="0.25">10<tspan dy="-4.0" font-size="6.2" stroke-width="0">&#8722;2</tspan></text>
<text x="314.6" y="60.58" font-size="9.9" fill="#111" text-anchor="end" stroke="#111" stroke-width="0.25">10<tspan dy="-4.0" font-size="6.2" stroke-width="0">&#8722;1</tspan></text>
<text x="314.6" y="39.49" font-size="9.9" fill="#111" text-anchor="end" stroke="#111" stroke-width="0.25">10<tspan dy="-4.0" font-size="6.2" stroke-width="0">0</tspan></text>
<text x="314.6" y="18.40" font-size="9.9" fill="#111" text-anchor="end" stroke="#111" stroke-width="0.25">10<tspan dy="-4.0" font-size="6.2" stroke-width="0">1</tspan></text>
<text x="317.8" y="193.5" font-size="9.8" font-weight="bold" fill="#111" text-anchor="middle" >0</text>
<text x="354.55" y="193.5" font-size="9.8" font-weight="bold" fill="#111" text-anchor="middle" >2</text>
<text x="391.3" y="193.5" font-size="9.8" font-weight="bold" fill="#111" text-anchor="middle" >4</text>
<text x="428.05" y="193.5" font-size="9.8" font-weight="bold" fill="#111" text-anchor="middle" >6</text>
<text x="464.8" y="193.5" font-size="9.8" font-weight="bold" fill="#111" text-anchor="middle" >8</text>
<text x="501.55" y="193.5" font-size="9.8" font-weight="bold" fill="#111" text-anchor="middle" >10</text>
<text x="538.3" y="193.5" font-size="9.8" font-weight="bold" fill="#111" text-anchor="middle" >12</text>
<text x="421.4" y="204" font-size="11.2" font-weight="bold" fill="#111" text-anchor="middle" textLength="82.8" lengthAdjust="spacingAndGlyphs" >Wavelength (μm)</text>
<text transform="translate(292.5,100) rotate(-90)" font-size="9.3" font-weight="bold" fill="#111" text-anchor="middle">Thickness normalized QE (a. u.)</text>
<text x="282.5" y="22.3" font-size="14" font-weight="bold" fill="#111" text-anchor="start" >b</text>
<rect x="150.0" y="218.3" width="264.70" height="171.20" fill="url(#bgb)"/>
<rect x="160.2" y="327.5" width="7.0" height="62.00" fill="#fdd6ba"/>
<rect x="174.4" y="343.5" width="7.0" height="46.00" fill="#fdd6ba"/>
<rect x="188.3" y="333.8" width="7.0" height="55.70" fill="#fdd6ba"/>
<rect x="202.3" y="331.1" width="7.0" height="58.40" fill="#fdd6ba"/>
<rect x="216.5" y="267.0" width="7.0" height="122.50" fill="#fdd6ba"/>
<rect x="230.0" y="315.3" width="7.0" height="74.20" fill="#f88a5c"/>
<rect x="244.2" y="290.3" width="7.0" height="99.20" fill="#f88a5c"/>
<rect x="258.4" y="278.0" width="7.0" height="111.50" fill="#f88a5c"/>
<rect x="272.0" y="312.4" width="7.0" height="77.10" fill="#f88a5c"/>
<rect x="285.9" y="284.0" width="7.0" height="105.50" fill="#f88a5c"/>
<rect x="299.9" y="256.5" width="7.0" height="133.00" fill="#f88a5c"/>
<rect x="313.8" y="292.0" width="7.0" height="97.50" fill="url(#gBP)"/>
<rect x="327.8" y="354.9" width="7.0" height="34.60" fill="url(#gPd)"/>
<rect x="341.6" y="354.4" width="7.0" height="35.10" fill="url(#gRe)"/>
<rect x="355.5" y="374.0" width="7.0" height="15.50" fill="url(#gRe)"/>
<rect x="369.6" y="304.0" width="7.0" height="85.50" fill="#ffc3c3"/>
<rect x="383.7" y="341.2" width="7.0" height="48.30" fill="#ffc3c3"/>
<rect x="401.0" y="379.0" width="7.0" height="10.50" fill="#ff6262"/>
<line x1="227.6" y1="221.10000000000002" x2="227.6" y2="389.5" stroke="#5a5a5a" stroke-width="1.45" stroke-dasharray="1.45 5.45"/>
<line x1="310.0" y1="221.10000000000002" x2="310.0" y2="389.5" stroke="#5a5a5a" stroke-width="1.45" stroke-dasharray="1.45 5.45"/>
<line x1="337.4" y1="221.10000000000002" x2="337.4" y2="389.5" stroke="#5a5a5a" stroke-width="1.45" stroke-dasharray="1.45 5.45"/>
<line x1="366.0" y1="221.10000000000002" x2="366.0" y2="389.5" stroke="#5a5a5a" stroke-width="1.45" stroke-dasharray="1.45 5.45"/>
<line x1="392.8" y1="221.10000000000002" x2="392.8" y2="389.5" stroke="#5a5a5a" stroke-width="1.45" stroke-dasharray="1.45 5.45"/>
<polyline points="311.5,284.7 311.5,265.5 365.0,265.5 365.0,284.7" fill="none" stroke="#a43ce6" stroke-width="1.6"/>
<text x="172.4" y="231.3" font-size="7" font-weight="bold" fill="#f7b68e" text-anchor="start" textLength="30.8" lengthAdjust="spacingAndGlyphs" stroke="#f7b68e" stroke-width="0.3">Hexagonal</text>
<text x="256.9" y="232.1" font-size="7.2" font-weight="bold" fill="#f85858" text-anchor="start" textLength="17.1" lengthAdjust="spacingAndGlyphs" stroke="#f85858" stroke-width="0.25">Cubic</text>
<text x="312.6" y="229.8" font-size="6.8" font-weight="bold" fill="#a6e48e" text-anchor="start" textLength="22.2" lengthAdjust="spacingAndGlyphs" stroke="#a6e48e" stroke-width="0.25">Orthor-</text>
<text x="312.6" y="241.3" font-size="6.8" font-weight="bold" fill="#a6e48e" text-anchor="start" textLength="20.5" lengthAdjust="spacingAndGlyphs" stroke="#a6e48e" stroke-width="0.25">hombic</text>
<text x="340" y="230.3" font-size="6.6" font-weight="bold" fill="#10a030" text-anchor="start" textLength="25" lengthAdjust="spacingAndGlyphs" stroke="#10a030" stroke-width="0.3">Triclinic</text>
<text x="370" y="229.8" font-size="6.8" font-weight="bold" fill="#f7b2b2" text-anchor="start" textLength="17" lengthAdjust="spacingAndGlyphs" >Mono-</text>
<text x="370" y="240.3" font-size="7" font-weight="bold" fill="#f7b2b2" text-anchor="start" textLength="14.6" lengthAdjust="spacingAndGlyphs" >clinic</text>
<text x="396.6" y="230.9" font-size="6.6" font-weight="bold" fill="#f02838" text-anchor="start" textLength="13.6" lengthAdjust="spacingAndGlyphs" stroke="#f02838" stroke-width="0.25">Trig-</text>
<text x="396.6" y="240.9" font-size="6.6" font-weight="bold" fill="#f02838" text-anchor="start" textLength="12.3" lengthAdjust="spacingAndGlyphs" stroke="#f02838" stroke-width="0.25">onal</text>
<text x="310.4" y="261.6" font-size="6.6" font-weight="bold" fill="#a43ce6" text-anchor="start" textLength="56" lengthAdjust="spacingAndGlyphs" >Polarization-Sensitive</text>
<text x="162.0" y="324.0" font-size="6.5" font-weight="bold" fill="#111" text-anchor="start" >Si</text>
<text x="171.4" y="338.8" font-size="6.2" font-weight="bold" fill="#2040d4" text-anchor="start" >MoS<tspan dy="1.5" font-size="4">2</tspan></text>
<text x="185.0" y="331.6" font-size="6.2" font-weight="bold" fill="#2040d4" text-anchor="start" >GaSe</text>
<text x="200.7" y="327.8" font-size="6.2" font-weight="bold" fill="#2040d4" text-anchor="start" >PtS<tspan dy="1.5" font-size="4">2</tspan></text>
<text x="200.6" y="263.0" font-size="6.4" font-weight="bold" fill="#2040d4" text-anchor="start" textLength="26.4" lengthAdjust="spacingAndGlyphs" >Graphene</text>
<text x="229.5" y="312.4" font-size="6.5" font-weight="bold" fill="#111" text-anchor="start" >Ge</text>
<text x="241.3" y="287.3" font-size="6.5" font-weight="bold" fill="#111" text-anchor="start" >InAs</text>
<text x="253.7" y="274.0" font-size="6.5" font-weight="bold" fill="#111" text-anchor="start" >InSb</text>
<text x="267.8" y="309.2" font-size="6.5" font-weight="bold" fill="#111" text-anchor="start" >GaSb</text>
<text x="267.7" y="279.2" font-size="6.5" font-weight="bold" fill="#111" text-anchor="start" >InAs<tspan dy="2.2" font-size="3.5">0.35</tspan><tspan dy="-2.2">Sb</tspan><tspan dy="2.2" font-size="3.5">0.65</tspan></text>
<text x="278.7" y="251.2" font-size="6.5" font-weight="bold" fill="#111" text-anchor="start" >Hg<tspan dy="1.5" font-size="3.5">0.8</tspan><tspan dy="-1.5">Cd</tspan><tspan dy="1.5" font-size="3.5">0.2</tspan><tspan dy="-1.5">Te</tspan></text>
<text x="314.2" y="288.0" font-size="6.5" font-weight="bold" fill="#2040d4" text-anchor="start" >BP</text>
<text x="322.0" y="351.5" font-size="6.2" font-weight="bold" fill="#2040d4" text-anchor="start" >PdSe<tspan dy="1.5" font-size="4">2</tspan></text>
<text x="339.2" y="353.1" font-size="6.2" font-weight="bold" fill="#2040d4" text-anchor="start" >ReSe<tspan dy="1.5" font-size="4">2</tspan></text>
<text x="352.7" y="370.9" font-size="6.2" font-weight="bold" fill="#2040d4" text-anchor="start" >ReS<tspan dy="1.5" font-size="4">2</tspan></text>
<text x="368.3" y="300.5" font-size="6.2" font-weight="bold" fill="#2040d4" text-anchor="start" >TiS<tspan dy="1.5" font-size="4">2</tspan></text>
<text x="377.6" y="336.5" font-size="6.2" font-weight="bold" fill="#2040d4" text-anchor="start" >WSe<tspan dy="1.5" font-size="4">2</tspan></text>
<text x="398.0" y="375.7" font-size="6.2" font-weight="bold" fill="#2040d4" text-anchor="start" >PtSe<tspan dy="1.5" font-size="4">2</tspan></text>
<rect x="150.0" y="218.3" width="264.70" height="171.20" fill="none" stroke="#111" stroke-width="1.7"/>
<path d="M150.0,389.50h2.8 M150.0,380.91h1.5 M150.0,375.89h1.5 M150.0,372.32h1.5 M150.0,369.56h1.5 M150.0,367.30h1.5 M150.0,365.39h1.5 M150.0,363.73h1.5 M150.0,362.27h1.5 M150.0,360.97h2.8 M150.0,352.38h1.5 M150.0,347.35h1.5 M150.0,343.79h1.5 M150.0,341.02h1.5 M150.0,338.76h1.5 M150.0,336.85h1.5 M150.0,335.20h1.5 M150.0,333.74h1.5 M150.0,332.43h2.8 M150.0,323.84h1.5 M150.0,318.82h1.5 M150.0,315.25h1.5 M150.0,312.49h1.5 M150.0,310.23h1.5 M150.0,308.32h1.5 M150.0,306.67h1.5 M150.0,305.21h1.5 M150.0,303.90h2.8 M150.0,295.31h1.5 M150.0,290.29h1.5 M150.0,286.72h1.5 M150.0,283.96h1.5 M150.0,281.70h1.5 M150.0,279.79h1.5 M150.0,278.13h1.5 M150.0,276.67h1.5 M150.0,275.37h2.8 M150.0,266.78h1.5 M150.0,261.75h1.5 M150.0,258.19h1.5 M150.0,255.42h1.5 M150.0,253.16h1.5 M150.0,251.25h1.5 M150.0,249.60h1.5 M150.0,248.14h1.5 M150.0,246.83h2.8 M150.0,238.24h1.5 M150.0,233.22h1.5 M150.0,229.65h1.5 M150.0,226.89h1.5 M150.0,224.63h1.5 M150.0,222.72h1.5 M150.0,221.07h1.5 M150.0,219.61h1.5 M150.0,218.30h2.8" stroke="#111" stroke-width="1.2" fill="none"/>
<text x="146.3" y="394.00" font-size="9.9" fill="#111" text-anchor="end" stroke="#111" stroke-width="0.25">10<tspan dy="-4.0" font-size="6.2" stroke-width="0">1</tspan></text>
<text x="146.3" y="365.47" font-size="9.9" fill="#111" text-anchor="end" stroke="#111" stroke-width="0.25">10<tspan dy="-4.0" font-size="6.2" stroke-width="0">2</tspan></text>
<text x="146.3" y="336.93" font-size="9.9" fill="#111" text-anchor="end" stroke="#111" stroke-width="0.25">10<tspan dy="-4.0" font-size="6.2" stroke-width="0">3</tspan></text>
<text x="146.3" y="308.40" font-size="9.9" fill="#111" text-anchor="end" stroke="#111" stroke-width="0.25">10<tspan dy="-4.0" font-size="6.2" stroke-width="0">4</tspan></text>
<text x="146.3" y="279.87" font-size="9.9" fill="#111" text-anchor="end" stroke="#111" stroke-width="0.25">10<tspan dy="-4.0" font-size="6.2" stroke-width="0">5</tspan></text>
<text x="146.3" y="251.33" font-size="9.9" fill="#111" text-anchor="end" stroke="#111" stroke-width="0.25">10<tspan dy="-4.0" font-size="6.2" stroke-width="0">6</tspan></text>
<text x="146.3" y="222.80" font-size="9.9" fill="#111" text-anchor="end" stroke="#111" stroke-width="0.25">10<tspan dy="-4.0" font-size="6.2" stroke-width="0">7</tspan></text>
<text x="261.2" y="402.6" font-size="11.5" font-weight="bold" fill="#111" text-anchor="start" textLength="45.4" lengthAdjust="spacingAndGlyphs" >Materials</text>
<text transform="translate(125.3,304) rotate(-90)" font-size="10.6" font-weight="bold" fill="#111" text-anchor="middle">Carrier mobility (cm<tspan dy="-3" font-size="6.5">2</tspan><tspan dy="3">V</tspan><tspan dy="-3" font-size="6.5">-1</tspan><tspan dy="3">S</tspan><tspan dy="-3" font-size="6.5">-1</tspan><tspan dy="3">)</tspan></text>
<text x="116.8" y="222.0" font-size="14" font-weight="bold" fill="#111" text-anchor="start" >c</text>
</g>
</svg></body></html>
